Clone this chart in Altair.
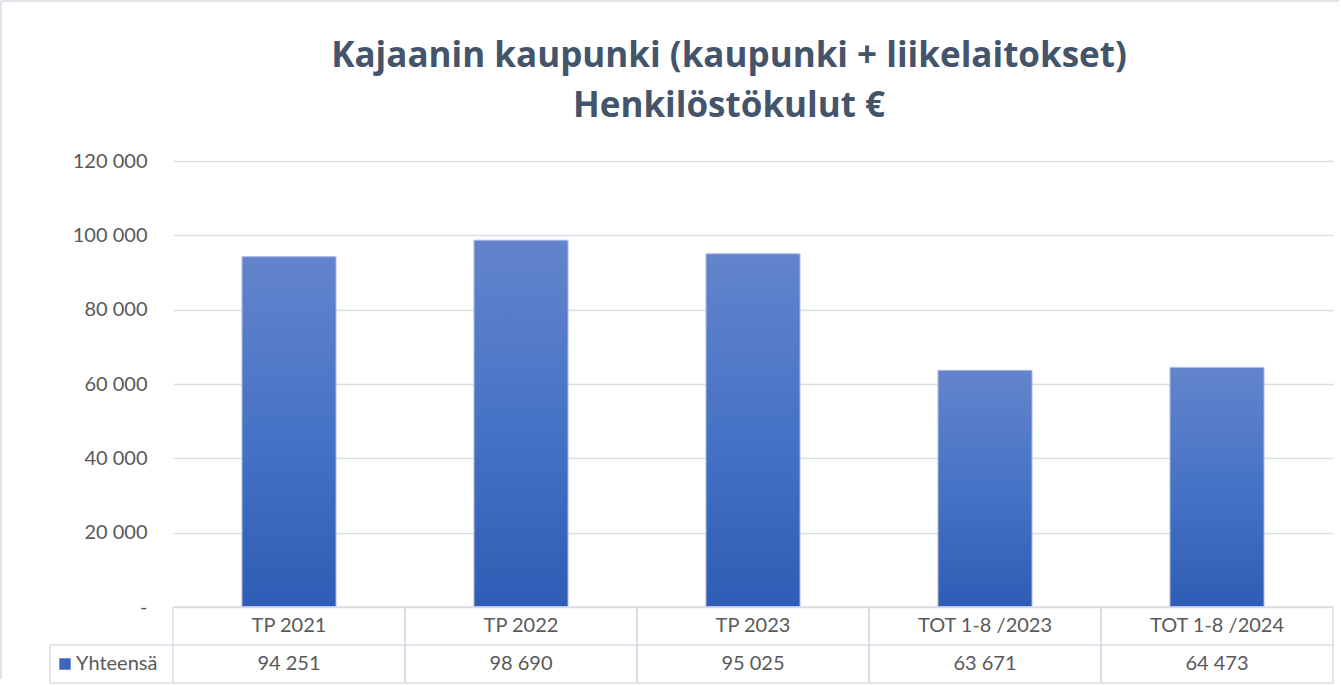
import altair as alt
import pandas as pd

categories = ["TP 2021", "TP 2022", "TP 2023", "TOT 1-8 /2023", "TOT 1-8 /2024"]
values = [94251, 98690, 95025, 63671, 64473]
series_name = "Yhteensä"
title_lines = ["Kajaanin kaupunki (kaupunki + liikelaitokset)", "Henkilöstökulut €"]
y_ticks = [0, 20000, 40000, 60000, 80000, 100000, 120000]

df = pd.DataFrame({"cat": categories, "value": values})
one = pd.DataFrame({"k": [0]})

W, H = 1160, 446
STEP = W / len(categories)
ROW1, ROW2, BOTTOM = 465, 503, 522
LEFT_CELL = -123
TXT = "#595959"
GRID = "#d9dde4"
FONT = "Lato"

x_enc = alt.X("cat:N", sort=categories, scale=alt.Scale(paddingInner=0, paddingOuter=0), axis=None)

base = alt.Chart(df)

bar_fill = alt.Gradient(
    gradient="linear", x1=0, x2=0, y1=0, y2=1,
    stops=[alt.GradientStop(offset=0, color="#6384cc"),
           alt.GradientStop(offset=0.5, color="#4673c6"),
           alt.GradientStop(offset=1, color="#2e5db5")],
)

bars = base.mark_bar(size=94, color=bar_fill, stroke="#a9bbe4", strokeWidth=1).encode(
    x=x_enc,
    y=alt.Y("value:Q", scale=alt.Scale(domain=[0, 120000]),
            axis=alt.Axis(values=y_ticks, title=None, domain=False, ticks=False,
                          labelPadding=26, labelFontSize=20, labelFont=FONT, labelColor=TXT,
                          gridColor=GRID, gridWidth=1.3,
                          labelExpr="datum.value == 0 ? '-   ' : replace(format(datum.value, ','), ',', ' ')")),
)

header = base.mark_text(fontSize=20, font=FONT, color=TXT, baseline="middle").encode(
    x=x_enc, y=alt.value(ROW1), text="cat:N")

vals = base.transform_calculate(
    label="replace(format(datum.value, ','), ',', ' ')"
).mark_text(fontSize=20, font=FONT, color=TXT, baseline="middle").encode(
    x=x_enc, y=alt.value(ROW2), text="label:N")

vlines_l = base.mark_rule(color=GRID, strokeWidth=1.5, xOffset=-STEP / 2).encode(
    x=x_enc, y=alt.value(H), y2=alt.value(BOTTOM))
vlines_r = base.mark_rule(color=GRID, strokeWidth=1.5, xOffset=STEP / 2).encode(
    x=x_enc, y=alt.value(H), y2=alt.value(BOTTOM))

ob = alt.Chart(one)
h_top = ob.mark_rule(color=GRID, strokeWidth=1.5).encode(x=alt.value(0), x2=alt.value(W), y=alt.value(H))
h_mid = ob.mark_rule(color=GRID, strokeWidth=1.5).encode(x=alt.value(LEFT_CELL), x2=alt.value(W), y=alt.value((H + BOTTOM) / 2))
h_bot = ob.mark_rule(color=GRID, strokeWidth=1.5).encode(x=alt.value(LEFT_CELL), x2=alt.value(W), y=alt.value(BOTTOM))
v_left = ob.mark_rule(color=GRID, strokeWidth=1.5).encode(x=alt.value(LEFT_CELL), y=alt.value((H + BOTTOM) / 2), y2=alt.value(BOTTOM))

legend_sq = ob.mark_square(size=130, color="#3a66bd", opacity=1).encode(
    x=alt.value(-108), y=alt.value(ROW2))
legend_txt = ob.mark_text(text=series_name,
    fontSize=20, font=FONT, color=TXT, align="left", baseline="middle").encode(
    x=alt.value(-97), y=alt.value(ROW2))

title1 = ob.mark_text(text=title_lines[0], fontSize=35, font="Open Sans", fontWeight="bold",
                      color="#44546a", align="center", baseline="alphabetic").encode(
    x=alt.value(556), y=alt.value(-94))
title2 = ob.mark_text(text=title_lines[1], fontSize=35, font="Open Sans", fontWeight="bold",
                      color="#44546a", align="center", baseline="alphabetic").encode(
    x=alt.value(556), y=alt.value(-44))

border_top = ob.mark_rule(color="#dfe3ea", strokeWidth=2).encode(
    x=alt.value(-172), x2=alt.value(1166), y=alt.value(-160))
border_left = ob.mark_rule(color="#dfe3ea", strokeWidth=2).encode(
    x=alt.value(-172), y=alt.value(-160), y2=alt.value(518))

chart = alt.layer(
    border_top, border_left,
    bars, vlines_l, vlines_r, h_top, h_mid, h_bot, v_left,
    header, vals, legend_sq, legend_txt, title1, title2,
).properties(
    width=W, height=H, padding=0,
).configure_view(stroke=None)

chart.save("out.html", embed_options={"renderer": "svg", "actions": False})
